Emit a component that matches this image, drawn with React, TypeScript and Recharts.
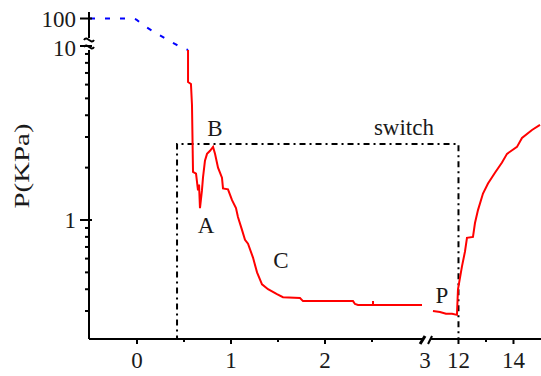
import React from 'react';
import { LineChart, Line, XAxis, YAxis, ReferenceDot } from 'recharts';

// ---------- data (time in s, pressure in KPa) ----------
const blueTime = [-0.5, -0.04, 0.064, 0.277, 0.468, 0.543];
const bluePressure = [100, 100, 58, 21, 9.87, 9.49];

const redLeftTime = [0.543, 0.543, 0.574, 0.585, 0.596, 0.628, 0.649, 0.66, 0.67, 0.691, 0.702, 0.723, 0.745, 0.777, 0.809, 0.83, 0.862, 0.904, 0.915, 0.968, 1.011, 1.053, 1.074, 1.117, 1.149, 1.181, 1.234, 1.277, 1.33, 1.394, 1.489, 1.553, 1.734, 1.766, 2.298, 2.319, 2.351, 2.511, 2.511, 2.511, 3.032];
const redLeftPressure = [9.49, 6.21, 6.05, 4.58, 1.89, 1.85, 1.48, 1.6, 1.17, 1.48, 1.75, 2.19, 2.4, 2.5, 2.63, 2.4, 2.0, 1.75, 1.52, 1.5, 1.3, 1.17, 1.04, 0.877, 0.77, 0.731, 0.608, 0.5, 0.427, 0.4, 0.375, 0.36, 0.356, 0.342, 0.342, 0.329, 0.325, 0.325, 0.342, 0.325, 0.325];

const redRightTime = [11.073, 11.327, 11.545, 11.764, 11.945, 11.982, 12.127, 12.236, 12.309, 12.527, 12.6, 12.709, 12.891, 13.073, 13.327, 13.582, 13.764, 14.127, 14.309, 14.673, 14.964];
const redRightPressure = [0.3, 0.296, 0.289, 0.289, 0.285, 0.4, 0.541, 0.658, 0.79, 0.8, 0.961, 1.14, 1.42, 1.62, 1.87, 2.14, 2.4, 2.63, 2.96, 3.29, 3.52];

const switchTime = [0.426, 0.426, 12, 12];
const switchPressure = [0.2, 2.73, 2.73, 0.2];

const yMajorTicks = [100, 10, 1];
const yMajorLabels = ['100', '10', '1'];
const yMinorTicks = [9, 8, 7, 6, 5, 4, 3, 2, 0.9, 0.8, 0.7, 0.6, 0.5, 0.4, 0.3];

const xMajorTicks = [0, 1, 2, 3, 12, 14];
const xMajorLabels = ['0', '1', '2', '3', '12', '14'];
const xMinorTicks = [0.5, 1.5, 2.5, 13];

const annotationText = ['A', 'B', 'C', 'P', 'switch'];
const annotationTime = [0.734, 0.83, 1.532, 11.4, 2.84];
const annotationPressure = [0.842, 3.04, 0.53, 0.333, 3.08];

// ---------- broken-axis transforms ----------
const T_SPLIT = 6;
const RIGHT_ORIGIN_T = 12;
const RIGHT_ORIGIN_X = 3.42;
const RIGHT_SCALE = 0.2926;
const UPPER_SCALE = 0.158;
const fx = (t: number) => (t < T_SPLIT ? t : RIGHT_ORIGIN_X + (t - RIGHT_ORIGIN_T) * RIGHT_SCALE);
const fy = (p: number) => {
  const l = Math.log10(p);
  return l <= 1 ? l : 1 + (l - 1) * UPPER_SCALE;
};
const rows = (ts: number[], ps: number[]) => ts.map((t, i) => ({ x: fx(t), y: fy(ps[i]) }));

const blueRows = rows(blueTime, bluePressure);
const redLeftRows = rows(redLeftTime, redLeftPressure);
const redRightRows = rows(redRightTime, redRightPressure);
const switchRows = rows(switchTime, switchPressure);

const X_DOMAIN: [number, number] = [-0.5106, 4.2979];
const Y_DOMAIN: [number, number] = [-0.6839, 1.1954];
const X_BREAK = 3.075;
const Y_BREAK = 1.0115;

const yTickInfo = new Map<number, { major: boolean; label: string }>();
yMajorTicks.forEach((v, i) => yTickInfo.set(fy(v), { major: true, label: yMajorLabels[i] }));
yMinorTicks.forEach((v) => yTickInfo.set(fy(v), { major: false, label: '' }));
const yTicks = Array.from(yTickInfo.keys());

const xTickInfo = new Map<number, { major: boolean; label: string }>();
xMajorTicks.forEach((v, i) => xTickInfo.set(fx(v), { major: true, label: xMajorLabels[i] }));
xMinorTicks.forEach((v) => xTickInfo.set(fx(v), { major: false, label: '' }));
const xTicks = Array.from(xTickInfo.keys());

const TEXT = '#1a1a1a';
const serifStyle = { fontFamily: "'Liberation Serif', 'Times New Roman', Times, serif" };

const YTick = (props: any) => {
  const { x, y, payload } = props;
  const info = yTickInfo.get(payload.value);
  if (!info) return null;
  if (!info.major) {
    return <line x1={x - 4} x2={x} y1={y} y2={y} stroke="#000" strokeWidth={2} />;
  }
  const dy = info.label === '10' ? 10 : 8;
  return (
    <g>
      <line x1={x - 9} x2={x + 3} y1={y} y2={y} stroke="#000" strokeWidth={2} />
      <text x={x - 13} y={y + dy} textAnchor="end" style={serifStyle} fontSize={23} fill={TEXT}>
        {info.label}
      </text>
    </g>
  );
};

const XTick = (props: any) => {
  const { x, y, payload } = props;
  const info = xTickInfo.get(payload.value);
  if (!info) return null;
  if (!info.major) {
    return <line x1={x} x2={x} y1={y} y2={y + 3} stroke="#000" strokeWidth={2} />;
  }
  const isBreak = info.label === '3';
  return (
    <g>
      {!isBreak && <line x1={x} x2={x} y1={y - 1} y2={y + 5} stroke="#000" strokeWidth={2} />}
      <text x={x + (isBreak ? 6 : 0)} y={y + 29} textAnchor="middle" style={serifStyle} fontSize={23} fill={TEXT}>
        {info.label}
      </text>
    </g>
  );
};

const AxisTitle = () => (
  <text
    x={29}
    y={166}
    transform="rotate(-90 29 166)"
    textAnchor="middle"
    style={serifStyle}
    fontSize={22}
    fill={TEXT}
    textLength={85}
    lengthAdjust="spacingAndGlyphs"
  >
    P(KPa)
  </text>
);

const XBreakShape = (props: any) => {
  const { cx, cy } = props;
  return (
    <g>
      <rect x={cx - 2} y={cy - 2} width={7} height={4} fill="#fff" />
      <line x1={cx - 6} y1={cy + 5} x2={cx - 1} y2={cy - 3} stroke="#000" strokeWidth={3} />
      <line x1={cx + 2} y1={cy + 5} x2={cx + 6} y2={cy - 3} stroke="#000" strokeWidth={2} />
    </g>
  );
};

const YBreakShape = (props: any) => {
  const { cx, cy } = props;
  return (
    <g>
      <rect x={cx - 2} y={cy - 6} width={4} height={12} fill="#fff" />
      <path d={`M${cx - 5},${cy - 4} C${cx - 2},${cy - 9} ${cx + 2},${cy + 1} ${cx + 5},${cy - 4}`} fill="none" stroke="#000" strokeWidth={2} />
      <path d={`M${cx - 5},${cy + 3} C${cx - 2},${cy - 2} ${cx + 2},${cy + 8} ${cx + 5},${cy + 3}`} fill="none" stroke="#000" strokeWidth={2} />
    </g>
  );
};

const makeTextShape = (text: string) => (props: any) => (
  <text x={props.cx} y={props.cy} textAnchor="middle" style={serifStyle} fontSize={23} fill={TEXT}>
    {text}
  </text>
);

export default function App() {
  return (
    <div style={{ position: 'absolute', left: 0, top: 0, background: '#fff' }}>
      <LineChart width={541} height={376} margin={{ top: 12, right: 0, bottom: 0, left: 0 }}>
        <XAxis
          type="number"
          dataKey="x"
          domain={X_DOMAIN}
          allowDataOverflow
          ticks={xTicks}
          interval={0}
          tick={<XTick />}
          tickLine={false}
          tickSize={0}
          tickMargin={0}
          height={37}
          axisLine={{ stroke: '#000', strokeWidth: 2 }}
        />
        <YAxis
          type="number"
          dataKey="y"
          domain={Y_DOMAIN}
          allowDataOverflow
          ticks={yTicks}
          interval={0}
          tick={<YTick />}
          tickLine={false}
          tickSize={0}
          tickMargin={0}
          width={89}
          axisLine={{ stroke: '#000', strokeWidth: 2 }}
          label={<AxisTitle />}
        />
        <Line
          data={switchRows}
          dataKey="y"
          type="linear"
          stroke="#000"
          strokeWidth={2}
          strokeDasharray="6 4 2 4"
          dot={false}
          activeDot={false}
          isAnimationActive={false}
        />
        <Line
          data={blueRows}
          dataKey="y"
          type="monotone"
          stroke="#0000ff"
          strokeWidth={2}
          strokeDasharray="5 10"
          dot={false}
          activeDot={false}
          isAnimationActive={false}
        />
        <Line
          data={redLeftRows}
          dataKey="y"
          type="linear"
          stroke="#ff0000"
          strokeWidth={2}
          dot={false}
          activeDot={false}
          isAnimationActive={false}
        />
        <Line
          data={redRightRows}
          dataKey="y"
          type="linear"
          stroke="#ff0000"
          strokeWidth={2}
          dot={false}
          activeDot={false}
          isAnimationActive={false}
        />
        <ReferenceDot x={X_BREAK} y={Y_DOMAIN[0]} r={0} ifOverflow="visible" shape={XBreakShape} />
        <ReferenceDot x={X_DOMAIN[0]} y={Y_BREAK} r={0} ifOverflow="visible" shape={YBreakShape} />
        {annotationText.map((t, i) => (
          <ReferenceDot
            key={t}
            x={fx(annotationTime[i])}
            y={fy(annotationPressure[i])}
            r={0}
            ifOverflow="visible"
            shape={makeTextShape(t)}
          />
        ))}
      </LineChart>
    </div>
  );
}
